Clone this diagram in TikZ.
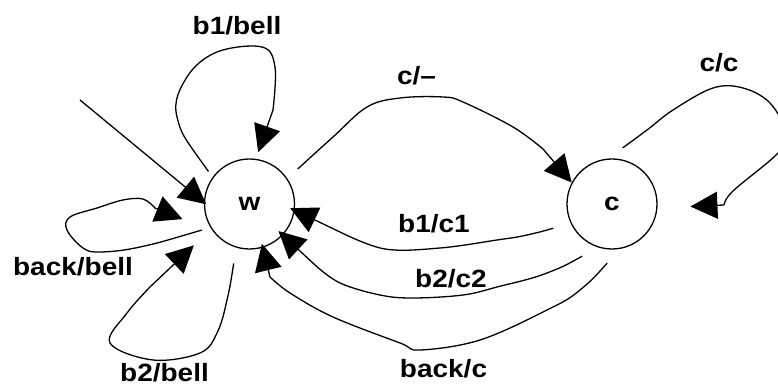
\documentclass[tikz,border=0pt]{standalone}
\usepackage{fontspec}
\setmainfont{Liberation Sans}[FakeStretch=1.12]
\usetikzlibrary{arrows.meta}
\tikzset{
  state/.style={circle, draw, line width=1.3pt, minimum size=90pt, inner sep=0pt,
                font=\fontsize{25}{30}\selectfont\bfseries},
  lbl/.style={anchor=base, inner sep=0pt, font=\fontsize{25}{30}\selectfont\bfseries},
  arr/.style={line width=1.3pt, line join=round, -{Triangle[length=27pt,width=27pt]}},
}
\begin{document}
\begin{tikzpicture}[x=1pt,y=1pt]
\path[use as bounding box, clip] (0,0) rectangle (778,385);
\fill[white] (0,0) rectangle (778,385);

% states
\node[state] (w) at (249.5,181) {w};
\node[state] (c) at (612,181) {c};

% initial arrow
\coordinate (init) at (80,285);
\draw[arr, shorten >=-3pt] (init) -- (w.178);

% self loops on w
\draw[arr, shorten <=7pt, shorten >=7pt]
  plot[smooth, tension=0.6] coordinates {(w.144) (177,268) (187,308) (217,333) (262,338) (275,318) (273,275)}
  -- (w.82);
\draw[arr, shorten <=9pt, shorten >=33pt]
  plot[smooth, tension=0.6] coordinates {(w.211) (140,138) (100,133) (83,137) (67,155) (70,168) (97,177) (123,185) (143,186) (155,177)}
  -- (w.217);
\draw[arr, shorten <=16pt, shorten >=24pt]
  plot[smooth, tension=0.6] coordinates {(w.253.5) (227,85) (217,52) (200,32) (153,25) (110,42) (127,72) (150,98)}
  -- (w.213);

% w to c
\draw[arr, shorten <=14pt]
  plot[smooth, tension=0.6] coordinates {(w.34) (333,248) (367,278) (400,287) (443,288) (463,283) (513,258) (543,236)}
  -- (c.152);

% self loop on c
\draw[arr, shorten <=18pt, shorten >=33pt]
  plot[smooth, tension=0.6] coordinates {(c.95) (647,255) (673,275) (713,297) (743,297) (770,282) (786,252) (778,232) (733,194) (724,180)}
  -- (c.-5);

% c back to w
\draw[arr, shorten <=18pt, shorten >=-5pt]
  plot[smooth, tension=0.6] coordinates {(c.205.6) (527,150) (497,145) (440,137) (385,136) (340,153)}
  -- (w.-8);
\draw[arr, shorten <=18pt, shorten >=-6pt]
  plot[smooth, tension=0.6] coordinates {(c.252) (547,112) (497,98) (463,90) (413,87) (380,90) (340,102) (315,120)}
  -- (w.-43);
\draw[arr, shorten <=19pt, shorten >=-4pt]
  plot[smooth, tension=0.6] coordinates {(c.280) (580,95) (547,75) (480,45) (420,35) (400,42) (333,68) (290,92) (270,108)}
  -- (w.-73);

% transition labels
\node[lbl] (l-b1bell)   at (237,350)   {b1/bell};
\node[lbl] (l-backbell) at (73,109)    {back/bell};
\node[lbl] (l-b2bell)   at (164.5,4)   {b2/bell};
\node[lbl] (l-cdash)    at (416.5,300) {c/–};
\node[lbl] (l-cc)       at (719,313)   {c/c};
\node[lbl] (l-b1c1)     at (434,152)   {b1/c1};
\node[lbl] (l-b2c2)     at (451,97)    {b2/c2};
\node[lbl] (l-backc)    at (443.5,8)   {back/c};
\end{tikzpicture}
\end{document}
